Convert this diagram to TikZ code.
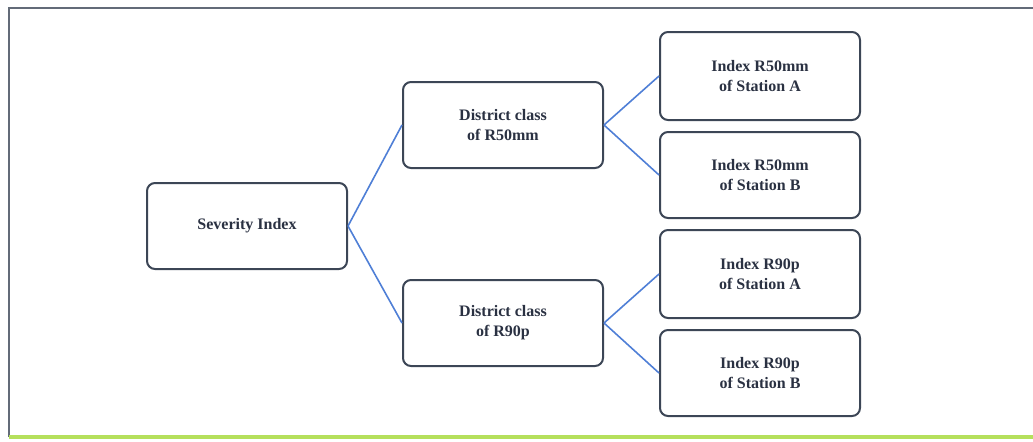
\documentclass[tikz,border=0pt]{standalone}
\usepackage{fontspec}
\setmainfont{Liberation Serif}
\usepackage{xcolor}
\usepackage{tikz}

\definecolor{boxline}{HTML}{3C4656}
\definecolor{boxtext}{HTML}{2A3142}
\definecolor{linkblue}{HTML}{4F7FD6}
\definecolor{framegreen}{HTML}{B5E05C}

\begin{document}
\begin{tikzpicture}[x=0.5pt,y=-0.5pt,
    box/.style={draw=boxline,line width=1pt,rounded corners=4pt,fill=white,
        minimum width=100pt,minimum height=43pt,align=center,
        font=\bfseries\fontsize{8}{10}\selectfont,text=boxtext},
    link/.style={draw=linkblue,line width=0.8pt}]
    % 画布与外框
    \useasboundingbox (0,0) rectangle (1033,441);
    \draw[boxline!80,line width=0.9pt] (1040,8) -- (9,8) -- (9,437);
    \draw[framegreen,line width=1.6pt] (9,437) -- (1040,437);

    % 放置节点
    \node[box] (sev) at (247,226) {Severity Index};
    \node[box] (dist50) at (503,125) {District class\\of R50mm};
    \node[box] (dist90) at (503,323) {District class\\of R90p};
    \node[box,minimum height=44pt] (idx50a) at (760,76) {Index R50mm\\of Station A};
    \node[box] (idx50b) at (760,175) {Index R50mm\\of Station B};
    \node[box,minimum height=44pt] (idx90a) at (760,274) {Index R90p\\of Station A};
    \node[box] (idx90b) at (760,373) {Index R90p\\of Station B};

    % 连线
    \draw[link] (sev.east) -- (dist50.west);
    \draw[link] (sev.east) -- (dist90.west);
    \draw[link] (dist50.east) -- (idx50a.west);
    \draw[link] (dist50.east) -- (idx50b.west);
    \draw[link] (dist90.east) -- (idx90a.west);
    \draw[link] (dist90.east) -- (idx90b.west);
\end{tikzpicture}
\end{document}
